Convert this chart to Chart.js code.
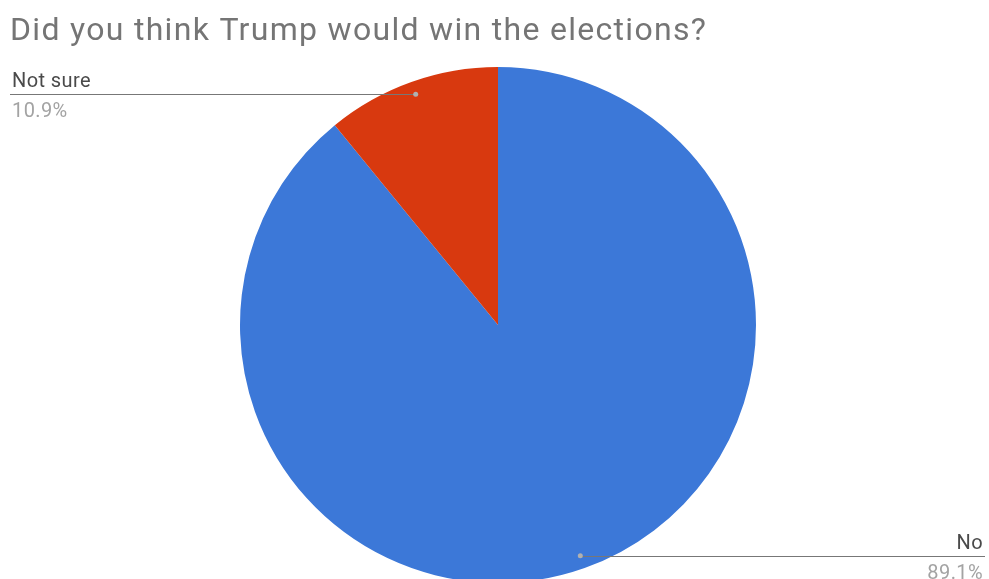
<!DOCTYPE html>
<html>
<head>
<meta charset="utf-8">
<script src="https://cdn.jsdelivr.net/npm/chart.js@4/dist/chart.umd.min.js"></script>
<style>
  body { margin: 0; overflow: hidden; background: #fff; }
  #wrap { width: 989px; height: 600px; }
</style>
</head>
<body>
<div id="wrap"><canvas id="chartpie" width="989" height="600"></canvas></div>
<script>
var titleText = 'Did you think Trump would win the elections?';
var categories = ['No', 'Not sure'];
var values = [89.1, 10.9];
var colors = ['#3c78d8', '#d8390f'];

// leader lines + labels, drawn from the arc geometry
var sideLabels = {
    id: 'sideLabels',
    afterDraw: function(chart) {
        var ctx = chart.ctx;
        var meta = chart.getDatasetMeta(0);
        var total = values.reduce(function(a, b) { return a + b; }, 0);

        ctx.save();
        ctx.font = '32px Roboto';
        ctx.letterSpacing = '1.3px';
        ctx.fillStyle = '#757575';
        ctx.textAlign = 'left';
        ctx.textBaseline = 'alphabetic';
        ctx.fillText(titleText, 10, 40);

        meta.data.forEach(function(arc, i) {
            var p = arc.getProps(['x', 'y', 'startAngle', 'endAngle', 'outerRadius']);
            var mid = (p.startAngle + p.endAngle) / 2;
            var dx = p.x + Math.cos(mid) * p.outerRadius * 0.95;
            var dy = p.y + Math.sin(mid) * p.outerRadius * 0.95;
            var left = dx < p.x;
            var edge = left ? 10 : 985;
            var tx = left ? 12 : 983;

            ctx.strokeStyle = '#777777';
            ctx.lineWidth = 1;
            ctx.beginPath();
            ctx.moveTo(edge, Math.round(dy) + 0.5);
            ctx.lineTo(dx, Math.round(dy) + 0.5);
            ctx.stroke();

            ctx.fillStyle = '#b0b0b0';
            ctx.beginPath();
            ctx.arc(dx, dy, 2.5, 0, Math.PI * 2);
            ctx.fill();

            ctx.textAlign = left ? 'left' : 'right';
            ctx.font = '20px Roboto';
            ctx.letterSpacing = '0.4px';
            ctx.fillStyle = '#4a4a4a';
            ctx.textBaseline = 'alphabetic';
            ctx.fillText(categories[i], tx, dy - 7);
            ctx.fillStyle = '#a3a3a3';
            ctx.textBaseline = 'top';
            ctx.fillText((values[i] / total * 100).toFixed(1) + '%', tx, dy + 8);
        });
        ctx.restore();
    }
};

var ctx = document.getElementById('chartpie').getContext('2d');
var chart = new Chart(ctx, {
    type: 'pie',
    data: {
        labels: categories,
        datasets: [{
            data: values,
            backgroundColor: colors,
            borderWidth: 0,
            hoverOffset: 0
        }]
    },
    options: {
        responsive: false,
        devicePixelRatio: 1,
        animation: false,
        layout: { padding: { left: 240, top: 67, right: 233, bottom: 17 } },
        plugins: {
            legend: { display: false },
            tooltip: { enabled: false },
            title: { display: false }
        }
    },
    plugins: [sideLabels]
});
</script>
</body>
</html>
